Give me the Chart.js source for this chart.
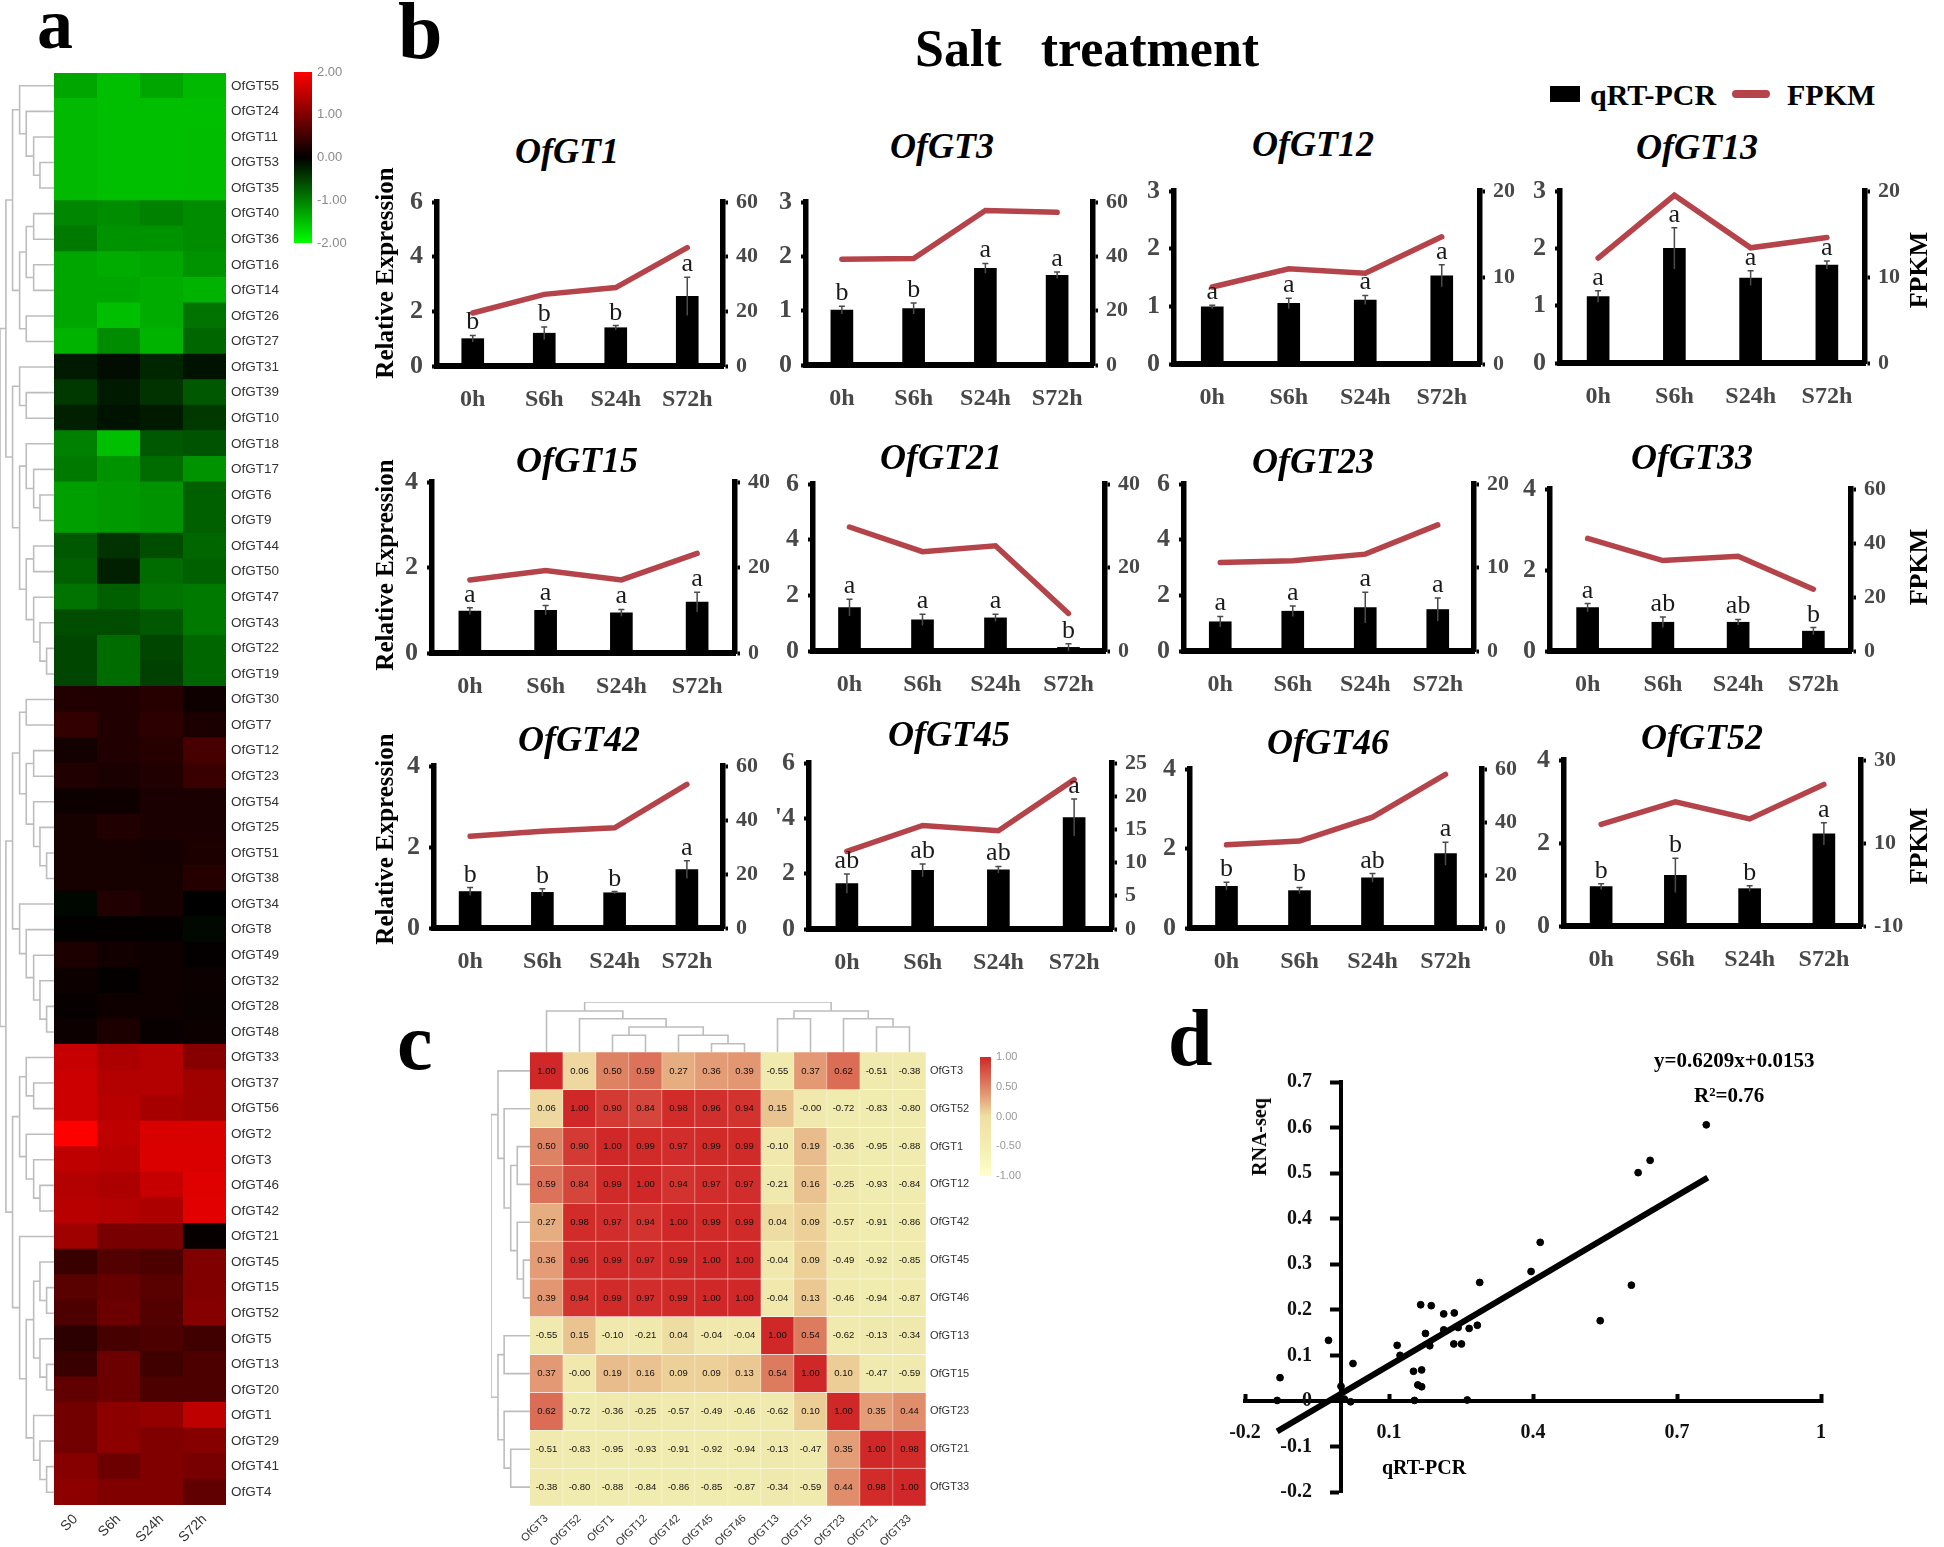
<!DOCTYPE html>
<html>
<head>
<meta charset="utf-8">
<title>Salt treatment</title>
<script src="https://cdn.jsdelivr.net/npm/chart.js@4"></script>
<style>
  html, body { margin: 0; padding: 0; background: #fff; }
  body { position: relative; width: 1944px; height: 1547px; overflow: hidden; }
  canvas { position: absolute; }
  .t { position: absolute; line-height: 0; white-space: pre; font-family: "Liberation Serif", serif; color: #000; }
</style>
</head>
<body>
<script>
Chart.defaults.animation = false;
Chart.defaults.responsive = false;
Chart.defaults.plugins.legend.display = false;
Chart.defaults.plugins.tooltip.enabled = false;

// panel a: expression heatmap
const heatColumns = ['S0', 'S6h', 'S24h', 'S72h'];
const heatRows = ['OfGT55','OfGT24','OfGT11','OfGT53','OfGT35','OfGT40','OfGT36','OfGT16','OfGT14','OfGT26','OfGT27','OfGT31','OfGT39','OfGT10','OfGT18','OfGT17','OfGT6','OfGT9','OfGT44','OfGT50','OfGT47','OfGT43','OfGT22','OfGT19','OfGT30','OfGT7','OfGT12','OfGT23','OfGT54','OfGT25','OfGT51','OfGT38','OfGT34','OfGT8','OfGT49','OfGT32','OfGT28','OfGT48','OfGT33','OfGT37','OfGT56','OfGT2','OfGT3','OfGT46','OfGT42','OfGT21','OfGT45','OfGT15','OfGT52','OfGT5','OfGT13','OfGT20','OfGT1','OfGT29','OfGT41','OfGT4'];
const heatValues = [
  [-1.3,-1.5,-1.3,-1.45],[-1.45,-1.5,-1.5,-1.5],[-1.45,-1.5,-1.5,-1.48],[-1.45,-1.5,-1.5,-1.48],[-1.45,-1.5,-1.5,-1.48],
  [-1.05,-1.1,-1.02,-1.1],[-0.95,-1.15,-1.15,-1.1],[-1.3,-1.35,-1.3,-1.15],[-1.3,-1.3,-1.35,-1.4],[-1.3,-1.5,-1.35,-0.9],[-1.4,-1.1,-1.4,-0.8],
  [-0.2,-0.1,-0.3,-0.15],[-0.45,-0.2,-0.4,-0.7],[-0.25,-0.15,-0.2,-0.45],
  [-1.0,-1.5,-0.7,-0.65],[-0.95,-1.15,-0.85,-1.15],[-1.25,-1.2,-1.15,-0.75],[-1.25,-1.2,-1.15,-0.75],
  [-0.7,-0.4,-0.6,-0.8],[-0.75,-0.25,-0.85,-0.75],[-0.9,-0.75,-0.9,-0.95],[-0.6,-0.6,-0.7,-0.95],[-0.55,-0.85,-0.55,-0.8],[-0.55,-0.85,-0.5,-0.8],
  [0.25,0.25,0.3,0.12],[0.4,0.25,0.35,0.2],[0.15,0.25,0.3,0.55],[0.25,0.2,0.25,0.45],
  [0.1,0.12,0.2,0.2],[0.18,0.25,0.2,0.2],[0.18,0.18,0.16,0.22],[0.18,0.18,0.18,0.28],
  [-0.05,0.25,0.18,0],[0.02,0.03,0.04,-0.06],[0.22,0.14,0.12,0.03],[0.1,0.03,0.12,0.1],[0.05,0.12,0.12,0.07],[0.1,0.22,0.06,0.1],
  [1.55,1.35,1.4,1.05],[1.6,1.4,1.4,1.25],[1.6,1.45,1.3,1.25],[2,1.5,1.7,1.7],[1.5,1.45,1.72,1.72],[1.4,1.35,1.55,1.75],[1.45,1.4,1.35,1.78],
  [1.25,0.95,0.95,0.05],[0.45,0.65,0.6,1],[0.7,0.8,0.7,1],[0.6,0.85,0.65,1.05],[0.35,0.55,0.6,0.5],[0.45,0.85,0.5,0.6],[0.75,0.85,0.6,0.6],
  [0.9,1.1,1.15,1.5],[0.9,1.1,1,1.05],[1.05,0.85,1,0.95],[1.1,1,1,0.75]
];
const heatTree = [146,
  [130,
    [112,
      [93,'OfGT55',[75,'OfGT24',[55,'OfGT11',[38,'OfGT53','OfGT35']]]],
      [93,[75,[55,'OfGT40','OfGT36'],[55,'OfGT16','OfGT14']],[75,'OfGT26','OfGT27']]],
    [112,
      [93,'OfGT31',[75,'OfGT39','OfGT10']],
      [93,[75,'OfGT18',[55,'OfGT17',[38,'OfGT6','OfGT9']]],[75,[55,'OfGT44','OfGT50'],[55,'OfGT47',[38,'OfGT43',[20,'OfGT22','OfGT19']]]]]]],
  [130,
    [112,
      [93,[75,'OfGT30','OfGT7'],[75,[55,'OfGT12','OfGT23'],[55,'OfGT54',[38,'OfGT25',[20,'OfGT51','OfGT38']]]]],
      [93,'OfGT34',[75,'OfGT8',[55,'OfGT49',[38,'OfGT32',[20,'OfGT28','OfGT48']]]]]],
    [112,
      [93,[75,'OfGT33',[55,'OfGT37','OfGT56']],[75,'OfGT2',[55,'OfGT3',[38,'OfGT46','OfGT42']]]],
      [93,'OfGT21',[75,[55,[38,'OfGT45',[20,'OfGT15','OfGT52']],[38,'OfGT5',[20,'OfGT13','OfGT20']]],[55,'OfGT1',[38,'OfGT29',[20,'OfGT41','OfGT4']]]]]]]];
const heatScaleTicks = [-2, -1, 0, 1, 2];

// panel b: qRT-PCR bars and FPKM lines
const timeLabels = ['0h', 'S6h', 'S24h', 'S72h'];
const geneTitles = ['OfGT1','OfGT3','OfGT12','OfGT13','OfGT15','OfGT21','OfGT23','OfGT33','OfGT42','OfGT45','OfGT46','OfGT52'];
const qpcrValues = [
  [1,1.2,1.4,2.55],[1.01,1.04,1.78,1.65],[0.99,1.05,1.11,1.53],[1.16,2,1.48,1.71],
  [0.98,1,0.94,1.19],[1.56,1.12,1.19,0.13],[1.05,1.43,1.56,1.49],[1.07,0.71,0.71,0.49],
  [0.9,0.88,0.87,1.44],[1.64,2.12,2.14,4.03],[1.05,0.94,1.26,1.87],[0.95,1.22,0.9,2.22]
];
const qpcrErrors = [
  [0.12,0.23,0.08,0.7],[0.07,0.1,0.09,0.06],[0.03,0.09,0.08,0.19],[0.1,0.36,0.13,0.07],
  [0.08,0.11,0.08,0.23],[0.3,0.2,0.13,0.13],[0.19,0.19,0.55,0.41],[0.1,0.13,0.07,0.09],
  [0.1,0.09,0.03,0.22],[0.35,0.23,0.12,0.67],[0.1,0.08,0.11,0.29],[0.07,0.41,0.07,0.27]
];
const fpkmValues = [
  [19.4,26.2,28.7,43.3],[38.9,39.2,56.9,56.2],[8.9,11,10.5,14.7],[12.2,19.5,13.4,14.6],
  [17.1,19.3,17.1,23.3],[29.7,23.8,25.2,9],[10.6,10.8,11.6,15.1],[41.7,33.5,35.1,22.9],
  [34,35.8,37.1,53.2],[11.7,15.6,14.8,22.5],[31.4,32.8,41.8,58],[14.5,19.9,15.8,24.1]
];
const sigLetters = [
  ['b','b','b','a'],['b','b','a','a'],['a','a','a','a'],['a','a','a','a'],
  ['a','a','a','a'],['a','a','a','b'],['a','a','a','a'],['a','ab','ab','b'],
  ['b','b','b','a'],['ab','ab','ab','a'],['b','b','ab','a'],['b','b','b','a']
];
const leftTicks = [
  [0,2,4,6],[0,1,2,3],[0,1,2,3],[0,1,2,3],
  [0,2,4],[0,2,4,6],[0,2,4,6],[0,2,4],
  [0,2,4],[0,2,4,6],[0,2,4],[0,2,4]
];
const rightTicks = [
  [0,20,40,60],[0,10,20,30,40,50,60],[0,10,20],[0,10,20],
  [0,20,40],[0,20,40],[0,10,20],[0,20,40,60],
  [0,20,40,60],[0,5,10,15,20,25],[0,20,40,60],[-10,10,30]
];
// left axis x, right axis x, top tick y, baseline y
const panelBoxes = [
  [437,723,202,366],[806,1093,202,365],[1174,1480,191,364],[1560,1865,191,363],
  [432,735,482,653],[813,1105,484,651],[1184,1474,484,651],[1550,1851,489,651],
  [434,723,766,928],[809,1112,763,929],[1190,1482,769,928],[1564,1861,760,926]
];
// title centre x, title baseline y
const titleSpots = [
  [567,163],[942,158],[1313,156],[1697,159],
  [577,472],[941,469],[1313,473],[1692,469],
  [579,751],[949,746],[1328,754],[1702,749]
];

// panel c: correlation matrix
const corrLabels = ['OfGT3','OfGT52','OfGT1','OfGT12','OfGT42','OfGT45','OfGT46','OfGT13','OfGT15','OfGT23','OfGT21','OfGT33'];
const corrValues = [
  [1,0.06,0.5,0.59,0.27,0.36,0.39,-0.55,0.37,0.62,-0.51,-0.38],
  [0.06,1,0.9,0.84,0.98,0.96,0.94,0.15,-0.001,-0.72,-0.83,-0.8],
  [0.5,0.9,1,0.99,0.97,0.99,0.99,-0.1,0.19,-0.36,-0.95,-0.88],
  [0.59,0.84,0.99,1,0.94,0.97,0.97,-0.21,0.16,-0.25,-0.93,-0.84],
  [0.27,0.98,0.97,0.94,1,0.99,0.99,0.04,0.09,-0.57,-0.91,-0.86],
  [0.36,0.96,0.99,0.97,0.99,1,1,-0.04,0.09,-0.49,-0.92,-0.85],
  [0.39,0.94,0.99,0.97,0.99,1,1,-0.04,0.13,-0.46,-0.94,-0.87],
  [-0.55,0.15,-0.1,-0.21,0.04,-0.04,-0.04,1,0.54,-0.62,-0.13,-0.34],
  [0.37,-0.001,0.19,0.16,0.09,0.09,0.13,0.54,1,0.1,-0.47,-0.59],
  [0.62,-0.72,-0.36,-0.25,-0.57,-0.49,-0.46,-0.62,0.1,1,0.35,0.44],
  [-0.51,-0.83,-0.95,-0.93,-0.91,-0.92,-0.94,-0.13,-0.47,0.35,1,0.98],
  [-0.38,-0.8,-0.88,-0.84,-0.86,-0.85,-0.87,-0.34,-0.59,0.44,0.98,1]
];
const corrRowTree = [95,
  [78,'OfGT3',[63,'OfGT52',[47,[31,'OfGT1','OfGT12'],[31,'OfGT42',[16,'OfGT45','OfGT46']]]]],
  [78,[63,'OfGT13','OfGT15'],[63,'OfGT23',[47,'OfGT21','OfGT33']]]];
const corrColTree = [140,
  [115,'OfGT3',[93,'OfGT52',[70,[47,'OfGT1','OfGT12'],[47,'OfGT42',[23,'OfGT45','OfGT46']]]]],
  [115,[93,'OfGT13','OfGT15'],[93,'OfGT23',[70,'OfGT21','OfGT33']]]];
const corrScaleTicks = [-1, -0.5, 0, 0.5, 1];

// panel d: qRT-PCR against RNA-seq
const qpcrFold = [-0.127,-0.133,-0.026,0,-0.007,0.007,0.02,0.025,0.117,0.123,0.151,0.168,0.16,0.168,0.153,0.166,0.188,0.176,0.185,0.214,0.236,0.214,0.244,0.235,0.251,0.267,0.284,0.289,0.263,0.396,0.415,0.54,0.605,0.619,0.644,0.761];
const rnaFold = [0.051,0.001,0.133,0.032,0.007,0.004,-0.002,0.082,0.122,0.1,0.065,0.068,0.035,0.031,0.001,0.211,0.209,0.148,0.121,0.191,0.193,0.156,0.161,0.125,0.125,0.159,0.166,0.26,0.002,0.284,0.348,0.176,0.254,0.501,0.528,0.606];
const trendX = [-0.133, 0.764];
const trendY = [-0.067, 0.49];
const scatterXTicks = [-0.2, 0.1, 0.4, 0.7, 1];
const scatterYTicks = [-0.2, -0.1, 0, 0.1, 0.2, 0.3, 0.4, 0.5, 0.6, 0.7];

const SERIF = '"Liberation Serif", serif';
const SANS = '"Liberation Sans", sans-serif';

function addCanvas(x, y, w, h) {
  const c = document.createElement('canvas');
  c.width = w; c.height = h;
  c.style.left = x + 'px'; c.style.top = y + 'px';
  document.body.appendChild(c);
  return c.getContext('2d');
}

// text placed by its baseline
function label(text, x, base, size, css, rotate) {
  const d = document.createElement('div');
  d.className = 't';
  d.textContent = text;
  d.style.cssText = `left:${x}px;top:${rotate ? base : base - size * 0.3375}px;font-size:${size}px;` + (css || '');
  if (rotate) d.style.transform = 'translate(-50%,0) rotate(-90deg)';
  document.body.appendChild(d);
  return d;
}

// keep the plot area exact: fixed axis size, no padding for overhanging labels
function noOverhang(s) {
  s.paddingLeft = s.paddingRight = s.paddingTop = s.paddingBottom = 0;
}
const fixWidth = w => s => { s.width = w; noOverhang(s); };
const fixHeight = h => s => { s.height = h; noOverhang(s); };
const useTicks = list => s => { s.ticks = list.map(v => ({ value: v })); };

// walk a linkage tree, leaves sit at their index in order
function linkage(node, order, out) {
  if (typeof node === 'string') return { pos: order.indexOf(node), h: 0 };
  const a = linkage(node[1], order, out);
  const b = linkage(node[2], order, out);
  out.push([a.pos, a.h], [a.pos, node[0]], [b.pos, node[0]], [b.pos, b.h], [NaN, NaN]);
  return { pos: (a.pos + b.pos) / 2, h: node[0] };
}

function dendrogram(tree, order, box, horizontal) {
  const segs = [];
  linkage(tree, order, segs);
  const n = order.length;
  const data = segs.map(p => horizontal ? { x: p[1], y: p[0] } : { x: p[0], y: p[1] });
  const ctx = addCanvas(box[0], box[1], box[2], box[3]);
  const posAxis = { type: 'linear', display: false, min: -0.5, max: n - 0.5 };
  const hAxis = { type: 'linear', display: false, min: 0, max: tree[0] };
  new Chart(ctx, {
    type: 'scatter',
    data: { datasets: [{ data, showLine: true, spanGaps: false, pointRadius: 0, borderColor: '#bdbdbd', borderWidth: 1.6 }] },
    options: {
      layout: { autoPadding: false },
      scales: horizontal
        ? { x: { ...hAxis, reverse: true }, y: { ...posAxis, reverse: true } }
        : { x: posAxis, y: hAxis }
    }
  });
}

function heatColor(v) {
  const k = Math.min(Math.abs(v) / 2, 1) * 255;
  return v >= 0 ? `rgb(${k},0,0)` : `rgb(0,${k},0)`;
}

const corrStops = [[-1,240,236,176],[0,240,232,172],[0.1,236,205,150],[0.5,222,130,100],[1,208,40,40]];
function corrColor(v) {
  for (let i = 1; i < corrStops.length; i++) {
    const a = corrStops[i - 1], b = corrStops[i];
    if (v <= b[0]) {
      const t = (v - a[0]) / (b[0] - a[0]);
      return `rgb(${a[1] + t * (b[1] - a[1])},${a[2] + t * (b[2] - a[2])},${a[3] + t * (b[3] - a[3])})`;
    }
  }
  return 'rgb(208,40,40)';
}

// one floating bar per cell, column by column
function cellDatasets(columns, rows, values, color, extra) {
  return columns.map((name, c) => ({
    label: name,
    data: rows.map(() => [c, c + 1]),
    backgroundColor: rows.map((_, r) => color(values[r][c])),
    barPercentage: 1,
    categoryPercentage: 1,
    grouped: false,
    ...extra
  }));
}

function colorBar(box, stops, range, ticks, fmt, tickFont, tickColor) {
  const ctx = addCanvas(box[0], box[1], box[2] + 50, box[3] + 12);
  new Chart(ctx, {
    type: 'bar',
    data: {
      labels: [''],
      datasets: [{
        data: [range],
        barPercentage: 1,
        categoryPercentage: 1,
        backgroundColor: c => {
          const area = c.chart.chartArea;
          if (!area) return '#000';
          const g = c.chart.ctx.createLinearGradient(0, area.bottom, 0, area.top);
          stops.forEach(s => g.addColorStop(s[0], s[1]));
          return g;
        }
      }]
    },
    options: {
      layout: { autoPadding: false, padding: { top: 6, bottom: 6 } },
      scales: {
        x: { display: false },
        y: {
          position: 'right', min: range[0], max: range[1],
          afterBuildTicks: useTicks(ticks), afterFit: fixWidth(50),
          border: { display: false }, grid: { display: false, drawTicks: false },
          ticks: { padding: 5, color: tickColor, font: { family: SANS, size: tickFont }, callback: fmt }
        }
      }
    }
  });
}

// panel a
dendrogram(heatTree, heatRows, [0, 73, 54, 1432], true);
new Chart(addCanvas(54, 73, 172 + 70, 1432 + 50), {
  type: 'bar',
  data: {
    labels: heatRows,
    datasets: cellDatasets(heatColumns, heatRows, heatValues, heatColor, { barPercentage: 1.05 })
  },
  options: {
    indexAxis: 'y',
    layout: { autoPadding: false },
    scales: {
      x: {
        type: 'linear', min: 0, max: 4,
        afterBuildTicks: useTicks([0.5, 1.5, 2.5, 3.5]), afterFit: fixHeight(50),
        border: { display: false }, grid: { display: false, drawTicks: false },
        ticks: {
          minRotation: 45, maxRotation: 45, padding: 6, color: '#333',
          font: { family: SANS, size: 14 },
          callback: v => heatColumns[v - 0.5]
        }
      },
      y: {
        position: 'right', afterFit: fixWidth(70),
        border: { display: false }, grid: { display: false, drawTicks: false },
        ticks: { autoSkip: false, padding: 5, color: '#333', font: { family: SANS, size: 13.5 } }
      }
    }
  }
});
colorBar([294, 66, 18, 171],
  [[0, '#00ff00'], [0.5, '#000000'], [1, '#ff0000']],
  [-2, 2], heatScaleTicks, v => v.toFixed(2), 13, '#8a8a8a');

// panel b
function errorPlugin(i) {
  return {
    id: 'errorBars' + i,
    afterDatasetsDraw(chart) {
      const { ctx, scales: { x, y } } = chart;
      ctx.save();
      timeLabels.forEach((name, k) => {
        const cx = x.getPixelForValue(k);
        const up = y.getPixelForValue(qpcrValues[i][k] + qpcrErrors[i][k]);
        const low = y.getPixelForValue(Math.max(qpcrValues[i][k] - qpcrErrors[i][k], 0));
        ctx.strokeStyle = '#4a4a4a';
        ctx.lineWidth = 1.5;
        ctx.beginPath();
        ctx.moveTo(cx, up); ctx.lineTo(cx, low);
        ctx.moveTo(cx - 3, up); ctx.lineTo(cx + 3, up);
        ctx.stroke();
        ctx.fillStyle = '#1a1a1a';
        ctx.font = '26px ' + SERIF;
        ctx.textAlign = 'center';
        ctx.textBaseline = 'alphabetic';
        ctx.fillText(sigLetters[i][k], cx, up - 6);
      });
      ctx.restore();
    }
  };
}

const MARGIN = 48, TOP_PAD = 14, BOTTOM = 54;
geneTitles.forEach((gene, i) => {
  const [l, r, t, b] = panelBoxes[i];
  const ctx = addCanvas(l - MARGIN, t - TOP_PAD, r - l + MARGIN * 2, b - t + TOP_PAD + BOTTOM);
  const rt = rightTicks[i], lt = leftTicks[i];
  new Chart(ctx, {
    type: 'bar',
    data: {
      labels: timeLabels,
      datasets: [
        {
          type: 'line', label: 'FPKM', data: fpkmValues[i], yAxisID: 'y2', order: 0,
          borderColor: '#b5444a', borderWidth: 5.5, pointRadius: 0, tension: 0, borderCapStyle: 'round'
        },
        {
          label: 'qRT-PCR', data: qpcrValues[i], yAxisID: 'y', order: 1,
          backgroundColor: '#000', barThickness: 22
        }
      ]
    },
    options: {
      layout: { autoPadding: false, padding: { top: TOP_PAD } },
      scales: {
        x: {
          afterFit: fixHeight(BOTTOM),
          border: { color: '#000', width: 6 },
          grid: { display: false, drawTicks: false },
          ticks: { padding: 19, color: '#484848', font: { family: SERIF, size: 24, weight: 'bold' }, maxRotation: 0, autoSkip: false }
        },
        y: {
          min: lt[0], max: lt[lt.length - 1],
          afterBuildTicks: useTicks(lt), afterFit: fixWidth(MARGIN),
          border: { color: '#000', width: 5.5 },
          grid: { drawOnChartArea: false, color: '#000', tickLength: 5, tickWidth: 4 },
          ticks: {
            padding: 9, color: '#484848', font: { family: SERIF, size: 26, weight: 'bold' },
            callback: v => (gene === 'OfGT45' && v === 4 ? "'4" : v)
          }
        },
        y2: {
          position: 'right', min: rt[0], max: rt[rt.length - 1],
          afterBuildTicks: useTicks(rt), afterFit: fixWidth(MARGIN),
          border: { color: '#000', width: 5.5 },
          grid: { drawOnChartArea: false, color: '#000', tickLength: 5, tickWidth: 4 },
          ticks: { padding: 8, color: '#484848', font: { family: SERIF, size: 22, weight: 'bold' } }
        }
      }
    },
    plugins: [errorPlugin(i)]
  });
  const [tx, ty] = titleSpots[i];
  label(gene, tx, ty, 36, 'font-style:italic;font-weight:bold;transform:translateX(-50%);');
});

label('a', 37, 48, 72, 'font-weight:bold;');
label('b', 398, 58, 80, 'font-weight:bold;');
label('c', 397, 1069, 80, 'font-weight:bold;');
label('d', 1168, 1065, 80, 'font-weight:bold;');
label('Salt   treatment', 915, 67, 52, 'font-weight:bold;');

// legend
const legendBox = document.createElement('div');
legendBox.style.cssText = 'position:absolute;left:1550px;top:86px;width:30px;height:16px;background:#000;';
document.body.appendChild(legendBox);
label('qRT-PCR', 1590, 105, 30, 'font-weight:bold;');
const legendLine = document.createElement('div');
legendLine.style.cssText = 'position:absolute;left:1732px;top:90px;width:38px;height:8px;border-radius:4px;background:#b5444a;';
document.body.appendChild(legendLine);
label('FPKM', 1787, 105, 30, 'font-weight:bold;');

// axis names of panel b
[[385, 273], [385, 565], [385, 839]].forEach(p => label('Relative Expression', p[0], p[1], 25, 'font-weight:bold;', true));
[[1919, 270], [1919, 567], [1919, 846]].forEach(p => label('FPKM', p[0], p[1], 26, 'font-weight:bold;', true));

// panel c
const cellText = {
  id: 'cellText',
  afterDatasetsDraw(chart) {
    const { ctx } = chart;
    ctx.save();
    ctx.font = '9.5px ' + SANS;
    ctx.fillStyle = '#111';
    ctx.textAlign = 'center';
    ctx.textBaseline = 'middle';
    chart.data.datasets.forEach((ds, c) => {
      chart.getDatasetMeta(c).data.forEach((bar, r) => {
        ctx.fillText(corrValues[r][c].toFixed(2), (bar.x + bar.base) / 2, bar.y);
      });
    });
    ctx.restore();
  }
};
dendrogram(corrRowTree, corrLabels, [491, 1052, 39, 454], true);
dendrogram(corrColTree, corrLabels, [530, 1002, 396, 50], false);
const CORR_PAD = 34; // room for the first rotated label
new Chart(addCanvas(530 - CORR_PAD, 1052, CORR_PAD + 396 + 60, 454 + 50), {
  type: 'bar',
  data: {
    labels: corrLabels,
    datasets: cellDatasets(corrLabels, corrLabels, corrValues, corrColor, { borderColor: '#fff', borderWidth: 0.6 })
  },
  options: {
    indexAxis: 'y',
    layout: { autoPadding: false, padding: { left: CORR_PAD } },
    scales: {
      x: {
        type: 'linear', min: 0, max: 12,
        afterBuildTicks: useTicks(corrLabels.map((_, i) => i + 0.5)), afterFit: fixHeight(50),
        border: { display: false }, grid: { display: false, drawTicks: false },
        ticks: {
          minRotation: 45, maxRotation: 45, padding: 6, color: '#333',
          font: { family: SANS, size: 11 },
          autoSkip: false,
          callback: v => corrLabels[v - 0.5]
        }
      },
      y: {
        position: 'right', afterFit: fixWidth(60),
        border: { display: false }, grid: { display: false, drawTicks: false },
        ticks: { autoSkip: false, padding: 4, color: '#333', font: { family: SANS, size: 11 } }
      }
    }
  },
  plugins: [cellText]
});
colorBar([980, 1051, 11, 119],
  [[0, '#ffffcc'], [0.25, '#f3eeb0'], [0.5, '#efdfa2'], [0.75, '#de8264'], [1, '#d02828']],
  [-1, 1], corrScaleTicks, v => v.toFixed(2), 11, '#9a9a9a');

// panel d
// an axis crossing at x=0 ignores tick padding, so its labels are set here
const crossingYLabels = {
  id: 'crossingYLabels',
  afterDraw(chart) {
    const { ctx, scales: { x, y } } = chart;
    ctx.save();
    ctx.font = 'bold 20px ' + SERIF;
    ctx.fillStyle = '#111';
    ctx.textAlign = 'right';
    ctx.textBaseline = 'middle';
    y.ticks.forEach(t => {
      ctx.fillText(String(t.value), x.getPixelForValue(0) - 29, y.getPixelForValue(t.value));
    });
    ctx.restore();
  }
};
const scatterLeft = 1150, scatterTop = 1030, scatterW = 770, scatterH = 510;
new Chart(addCanvas(scatterLeft, scatterTop, scatterW, scatterH), {
  type: 'scatter',
  data: {
    datasets: [
      {
        label: 'genes',
        data: qpcrFold.map((v, i) => ({ x: v, y: rnaFold[i] })),
        pointRadius: 3.4, backgroundColor: '#000', borderColor: '#000'
      },
      {
        label: 'fit',
        data: trendX.map((v, i) => ({ x: v, y: trendY[i] })),
        showLine: true, pointRadius: 0, borderColor: '#000', borderWidth: 6
      }
    ]
  },
  options: {
    layout: {
      autoPadding: false,
      padding: { left: 1245 - scatterLeft, top: 1082 - scatterTop, right: scatterLeft + scatterW - 1821, bottom: scatterTop + scatterH - 1492 }
    },
    scales: {
      x: {
        type: 'linear', min: -0.2, max: 1, position: { y: 0 },
        afterBuildTicks: useTicks(scatterXTicks),
        border: { color: '#000', width: 4 },
        grid: { drawOnChartArea: false, color: '#000', tickLength: -9, tickWidth: 4 },
        ticks: { padding: 29, color: '#111', font: { family: SERIF, size: 20, weight: 'bold' }, maxRotation: 0, callback: v => String(v) }
      },
      y: {
        type: 'linear', min: -0.2, max: 0.7, position: { x: 0 },
        afterBuildTicks: useTicks(scatterYTicks),
        border: { color: '#000', width: 4 },
        grid: { drawOnChartArea: false, color: '#000', tickLength: 9, tickWidth: 4 },
        ticks: { display: false }
      }
    }
  },
  plugins: [crossingYLabels]
});
label('y=0.6209x+0.0153', 1654, 1067, 21, 'font-weight:bold;');
label('R²=0.76', 1694, 1102, 21, 'font-weight:bold;');
label('RNA-seq', 1259, 1137, 20, 'font-weight:bold;', true);
label('qRT-PCR', 1382, 1474, 20, 'font-weight:bold;');
</script>
</body>
</html>
